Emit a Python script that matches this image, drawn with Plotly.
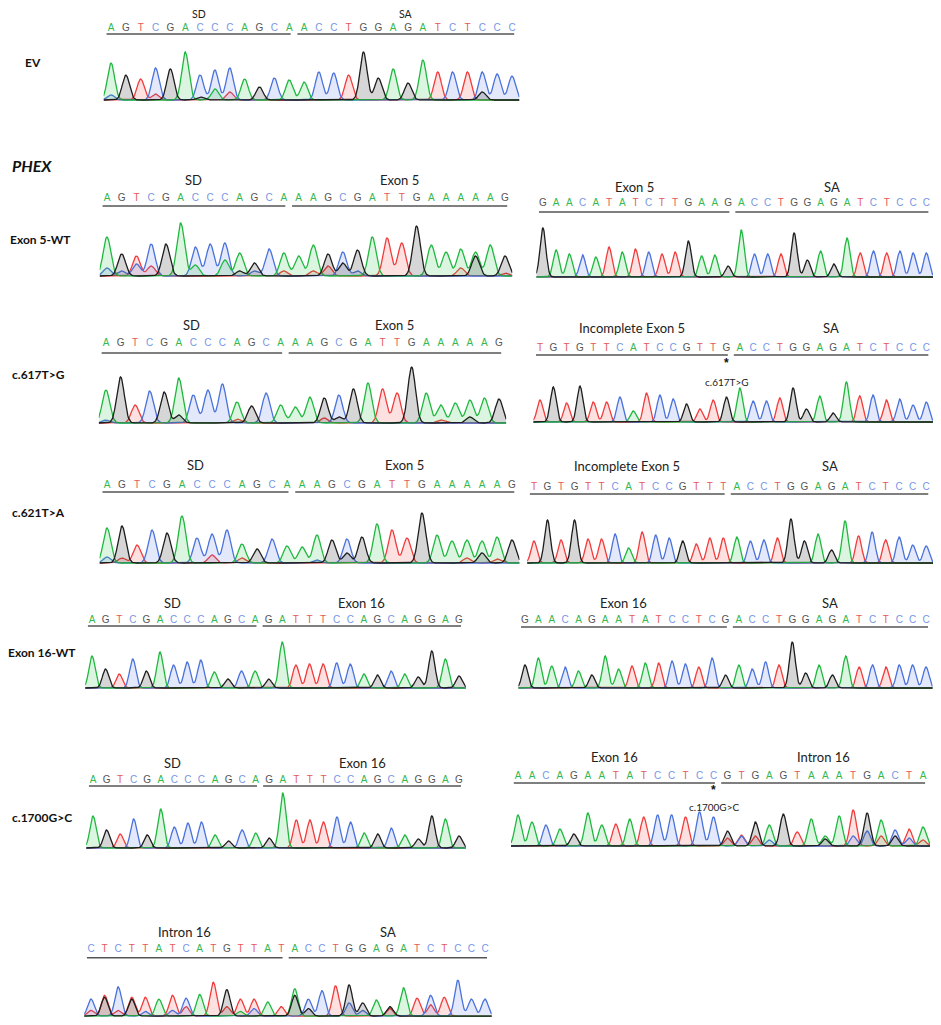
import numpy as np
import plotly.graph_objects as go

# reference picture size and the page's body margin the figure sits inside
REF_W, REF_H = 941, 1025
OFF = 8
W, H = REF_W - 2 * OFF, REF_H - 2 * OFF

# ---- base calls and peak heights (signal, ~px) ----
ev_seq = "AGTCGACCCAGCAACCTGGAGATCTCCC"
ev_h = [37, 25, 21, 32, 31, 48, 25, 30, 32, 21, 13, 22, 20, 18, 28, 27, 25, 48, 22, 31, 17, 40, 28, 28, 28, 28, 26, 24]
ev_sec_pos = [0, 3, 6, 7, 8, 25]
ev_sec_base = "CTGATG"
ev_sec_h = [5, 6, 3, 11, 8, 8]

ex5_left_seq = "AGTCGACCCAGCAAAGCGATTGAAAAAG"

wt5l_h = [39, 22, 20, 32, 32, 53, 29, 32, 33, 23, 13, 27, 23, 20, 31, 22, 24, 26, 39, 38, 33, 50, 31, 24, 27, 24, 31, 20]
wt5l_sec_pos = [0, 1, 2, 3, 6, 8, 9, 10, 12, 14, 15, 16, 17, 24, 25, 27]
wt5l_sec_base = "CCCTAAGCTTTGCTGT"
wt5l_sec_h = [8, 5, 12, 10, 11, 16, 5, 5, 5, 5, 10, 13, 5, 8, 20, 3]

wt5r_seq = "GAACATATCTTGAAGACCTGGAGATCTCCC"
wt5r_h = [49, 27, 23, 22, 20, 30, 25, 28, 25, 23, 25, 36, 21, 22, 11, 47, 23, 23, 23, 44, 17, 26, 13, 39, 24, 26, 24, 26, 24, 24]

c617l_h = [33, 46, 18, 32, 31, 45, 28, 33, 39, 21, 17, 30, 18, 16, 26, 25, 28, 34, 40, 34, 30, 56, 30, 18, 20, 23, 25, 24]
c617l_sec_pos = [0, 5, 9, 15, 16, 23, 25]
c617l_sec_base = "CGTTGTG"
c617l_sec_h = [3, 8, 4, 5, 6, 3, 6]

c617r_seq = "TGTGTTCATCCGTTGACCTGGAGATCTCCC"
c617r_h = [22, 35, 19, 36, 20, 20, 25, 11, 29, 27, 23, 18, 13, 22, 25, 34, 21, 21, 24, 34, 13, 26, 9, 40, 26, 27, 22, 23, 17, 20]

c621l_h = [35, 37, 18, 33, 30, 47, 25, 29, 33, 19, 14, 24, 17, 16, 28, 23, 24, 26, 39, 33, 25, 50, 28, 22, 23, 22, 26, 23]
c621l_sec_pos = [0, 1, 7, 9, 14, 16, 24, 25, 26]
c621l_sec_base = "CTTTCGTGT"
c621l_sec_h = [6, 5, 8, 5, 3, 10, 5, 10, 4]

c621r_seq = "TGTGTTCATCCGTTTACCTGGAGATCTCCC"
c621r_h = [22, 43, 23, 43, 24, 24, 29, 15, 31, 28, 25, 22, 19, 25, 25, 26, 22, 23, 25, 44, 22, 29, 13, 42, 27, 31, 23, 26, 18, 17]

ex16_left_seq = "AGTCGACCCAGCAGATTTCCAGCAGGAG"

wt16l_h = [32, 19, 14, 29, 17, 36, 23, 26, 28, 16, 9, 17, 17, 9, 46, 23, 24, 24, 25, 24, 14, 13, 17, 14, 11, 37, 29, 12]

wt16r_seq = "GAACAGAATATCCTCGACCTGGAGATCTCCC"
wt16r_h = [23, 30, 22, 21, 17, 13, 32, 19, 22, 25, 25, 27, 24, 21, 30, 13, 23, 19, 26, 23, 46, 15, 23, 13, 32, 21, 23, 21, 23, 23, 21]

c1700l_h = [32, 18, 14, 29, 13, 39, 21, 25, 26, 13, 7, 18, 15, 10, 55, 28, 28, 26, 31, 26, 15, 14, 20, 13, 9, 32, 29, 12]

c1700r_seq = "AACAGAATATCCTCCGTGAGTAAATGACTA"
c1700r_h = [31, 24, 21, 17, 12, 33, 21, 22, 27, 29, 31, 31, 29, 34, 29, 15, 11, 24, 21, 32, 14, 27, 10, 30, 36, 33, 26, 16, 17, 19]
c1700r_sec_pos = [15, 16, 17, 18, 22, 24, 25, 26, 27, 28, 29]
c1700r_sec_base = "TCTCGCCTGCT"
c1700r_sec_h = [8, 10, 10, 6, 7, 10, 15, 10, 10, 8, 6]

intron_seq = "CTCTTATCATGTTATACCTGGAGATCTCCC"
intron_h = [18, 22, 31, 20, 20, 18, 22, 19, 23, 36, 28, 18, 18, 15, 10, 29, 18, 27, 32, 33, 14, 17, 10, 30, 19, 22, 20, 38, 18, 18]
intron_sec_pos = [0, 1, 2, 3, 4, 6, 7, 10, 11, 12, 15, 16, 19, 20, 22, 25]
intron_sec_base = "TGTGCCTTACGGCCTT"
intron_sec_h = [6, 20, 6, 18, 5, 6, 10, 10, 5, 8, 22, 8, 14, 6, 8, 12]

row_labels = ["EV", "Exon 5-WT", "c.617T>G", "c.621T>A", "Exon 16-WT", "c.1700G>C"]

none = ([], "", [])
panels = [
    # seq, heights, secondary peaks, region names, split index
    (ev_seq, ev_h, (ev_sec_pos, ev_sec_base, ev_sec_h), ("SD", "SA"), 13),
    (ex5_left_seq, wt5l_h, (wt5l_sec_pos, wt5l_sec_base, wt5l_sec_h), ("SD", "Exon 5"), 13),
    (wt5r_seq, wt5r_h, none, ("Exon 5", "SA"), 15),
    (ex5_left_seq, c617l_h, (c617l_sec_pos, c617l_sec_base, c617l_sec_h), ("SD", "Exon 5"), 13),
    (c617r_seq, c617r_h, none, ("Incomplete Exon 5", "SA"), 15),
    (ex5_left_seq, c621l_h, (c621l_sec_pos, c621l_sec_base, c621l_sec_h), ("SD", "Exon 5"), 13),
    (c621r_seq, c621r_h, none, ("Incomplete Exon 5", "SA"), 15),
    (ex16_left_seq, wt16l_h, none, ("SD", "Exon 16"), 13),
    (wt16r_seq, wt16r_h, none, ("Exon 16", "SA"), 16),
    (ex16_left_seq, c1700l_h, none, ("SD", "Exon 16"), 13),
    (c1700r_seq, c1700r_h, (c1700r_sec_pos, c1700r_sec_base, c1700r_sec_h), ("Exon 16", "Intron 16"), 15),
    (intron_seq, intron_h, (intron_sec_pos, intron_sec_base, intron_sec_h), ("Intron 16", "SA"), 15),
]

# placement in reference px: first letter x, last letter x, region label y,
# letters y, underline y, baseline y, peak sigma
geom = [
    (111, 512, 14, 28, 34, 100, 0.24),
    (107, 505, 180, 198, 206, 276, 0.26),
    (543, 931, 187, 203, 212, 277, 0.22),
    (106, 499, 325, 343, 353, 423, 0.26),
    (540, 927, 328, 348, 355, 422, 0.22),
    (107, 512, 465, 485, 492, 563, 0.25),
    (534, 930, 466, 487, 494, 563, 0.22),
    (92, 459, 603, 620, 626, 688, 0.23),
    (525, 926, 603, 620, 627, 688, 0.22),
    (93, 459, 763, 780, 786, 848, 0.23),
    (518, 923, 757, 776, 783, 846, 0.23),
    (91, 485, 933, 951, 960, 1022, 0.24),
]
row_pos = [(33, 62), (40, 240), (38, 375), (38, 513), (42, 652), (42, 817)]

trace_col = {"A": "#1fb83f", "C": "#4a72db", "G": "#1e1e1e", "T": "#f03c3c"}
fill_col = {"A": "rgba(40,190,70,0.16)", "C": "rgba(80,115,225,0.16)",
            "G": "rgba(70,70,70,0.22)", "T": "rgba(240,60,60,0.16)"}
letter_col = {"A": "#35b850", "C": "#7796e4", "G": "#555555", "T": "#e45a5a"}


def fx(px):
    return min(max((px - OFF) / W, 0), 1)


def fy(py):
    return min(max(1 - (py - OFF) / H, 0), 1)


fig = go.Figure()
layout = {}
shapes = []
annots = []

for k, (p, g) in enumerate(zip(panels, geom), start=1):
    seq, hts, sec, regions, split = p
    x0px, x1px, ylab, ylet, yline, ybase, sig = g
    n = len(seq)
    step = (x1px - x0px) / (n - 1)
    top = max(ylab - 12, OFF)
    xa = "x" if k == 1 else f"x{k}"
    ya = "y" if k == 1 else f"y{k}"
    layout["xaxis" if k == 1 else f"xaxis{k}"] = dict(
        domain=[fx(x0px - step / 2), fx(x1px + step / 2)],
        range=[-0.5, n - 0.5], visible=False, fixedrange=True, anchor=ya)
    layout["yaxis" if k == 1 else f"yaxis{k}"] = dict(
        domain=[fy(ybase + 1), fy(top)],
        range=[-1, ybase - top], visible=False, fixedrange=True, anchor=xa)

    xs = np.linspace(-0.5, n - 0.5, n * 24)
    for b in "TCAG":
        ys = np.zeros_like(xs)
        for i, (c, v) in enumerate(zip(seq, hts)):
            if c == b:
                ys += v * np.exp(-(xs - i) ** 2 / (2 * sig ** 2))
        for i, c, v in zip(*sec):
            if c == b:
                ys += v * np.exp(-(xs - i) ** 2 / (2 * sig ** 2))
        fig.add_trace(go.Scatter(
            x=xs, y=ys, mode="lines", xaxis=xa, yaxis=ya,
            line=dict(color=trace_col[b], width=1.3),
            fill="tozeroy", fillcolor=fill_col[b],
            hoverinfo="skip", showlegend=False))

    # base letters
    fig.add_trace(go.Scatter(
        x=list(range(n)), y=[ybase - ylet] * n, mode="text", text=list(seq),
        textfont=dict(family="Liberation Sans", size=10,
                      color=[letter_col[c] for c in seq]),
        xaxis=xa, yaxis=ya, cliponaxis=False, hoverinfo="skip", showlegend=False))

    # region underlines and names
    segs = [(-0.3, split - 0.9), (split - 0.45, n - 0.85)]
    for (a, b), name in zip(segs, regions):
        shapes.append(dict(type="line", xref=xa, yref=ya, x0=a, x1=b,
                           y0=ybase - yline, y1=ybase - yline,
                           line=dict(color="#555555", width=1.6)))
        annots.append(dict(text=name, xref=xa, yref=ya, x=(a + b) / 2,
                           y=ybase - ylab, showarrow=False, xanchor="center", yanchor="middle",
                           font=dict(family="Lato", size=13 if k > 1 else 10.5, color="#222222")))

# mutation markers
for k, label, ystar, ytxt in [(5, "c.617T>G", 363, 382), (11, "c.1700G>C", 790, 807)]:
    ybase = geom[k - 1][5]
    annots.append(dict(text="<b>*</b>", xref=f"x{k}", yref=f"y{k}", x=14, y=ybase - ystar,
                       showarrow=False, xanchor="center", yanchor="middle",
                       font=dict(family="Liberation Sans", size=12, color="#111111")))
    annots.append(dict(text=label, xref=f"x{k}", yref=f"y{k}", x=14, y=ybase - ytxt,
                       showarrow=False, xanchor="center", yanchor="middle",
                       font=dict(family="Lato", size=10, color="#222222")))

for name, (px, py) in zip(row_labels, row_pos):
    annots.append(dict(text=f"<b>{name}</b>", xref="paper", yref="paper", x=fx(px), y=fy(py),
                       showarrow=False, xanchor="center", yanchor="middle",
                       font=dict(family="Lato", size=12, color="#111111")))

annots.append(dict(text="<b><i>PHEX</i></b>", xref="paper", yref="paper", x=fx(32), y=fy(165),
                   showarrow=False, xanchor="center", yanchor="middle",
                   font=dict(family="Lato", size=16, color="#111111")))

fig.update_layout(
    width=W, height=H, margin=dict(l=0, r=0, t=0, b=0),
    paper_bgcolor="white", plot_bgcolor="rgba(0,0,0,0)",
    shapes=shapes, annotations=annots, **layout)

fig.write_html("out.html")
